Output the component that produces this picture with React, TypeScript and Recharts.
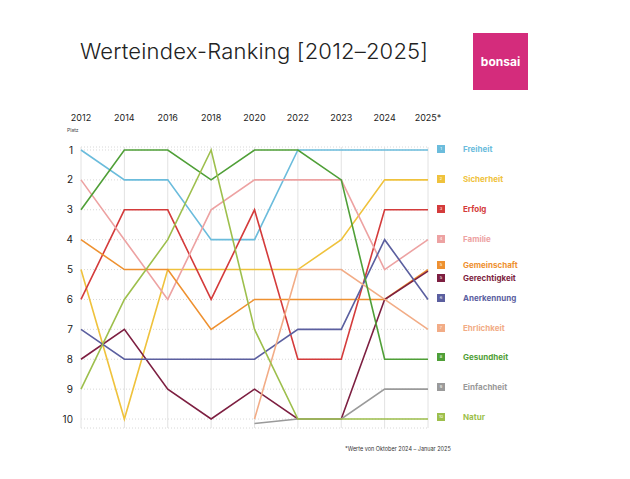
import { CartesianGrid, Line, LineChart, XAxis, YAxis } from "recharts";

const years = ["2012", "2014", "2016", "2018", "2020", "2022", "2023", "2024", "2025*"];
const ranks = [1, 2, 3, 4, 5, 6, 7, 8, 9, 10];

const freiheit = [1, 2, 2, 4, 4, 1, 1, 1, 1];
const sicherheit = [5, 10, 5, 5, 5, 5, 4, 2, 2];
const erfolg = [6, 3, 3, 6, 3, 8, 8, 3, 3];
const familie = [2, 4, 6, 3, 2, 2, 2, 5, 4];
const gemeinschaft = [4, 5, 5, 7, 6, 6, 6, 6, 5];
const gerechtigkeit = [8, 7, 9, 10, 9, 10, 10, 6, 5.05];
const anerkennung = [7, 8, 8, 8, 8, 7, 7, 4, 6];
const ehrlichkeit = [null, null, null, null, 10, 5, 5, 6, 7];
const gesundheit = [3, 1, 1, 2, 1, 1, 2, 8, 8];
const einfachheit = [null, null, null, null, 10.15, 10, 10, 9, 9];
const natur = [9, 6, 4, 1, 7, 10, 10, 10, 10];

const series = [
  { key: "freiheit", label: "Freiheit", rank: "1", color: "#6bbcdc", values: freiheit, top: 148 },
  { key: "sicherheit", label: "Sicherheit", rank: "2", color: "#efc23c", values: sicherheit, top: 178 },
  { key: "erfolg", label: "Erfolg", rank: "3", color: "#d43b3b", values: erfolg, top: 208 },
  { key: "familie", label: "Familie", rank: "4", color: "#eda2a2", values: familie, top: 238 },
  { key: "gemeinschaft", label: "Gemeinschaft", rank: "5", color: "#ee9130", values: gemeinschaft, top: 264 },
  { key: "gerechtigkeit", label: "Gerechtigkeit", rank: "5", color: "#7d1f41", values: gerechtigkeit, top: 277 },
  { key: "anerkennung", label: "Anerkennung", rank: "6", color: "#5b5f9f", values: anerkennung, top: 297 },
  { key: "ehrlichkeit", label: "Ehrlichkeit", rank: "7", color: "#f2ac86", values: ehrlichkeit, top: 327 },
  { key: "gesundheit", label: "Gesundheit", rank: "8", color: "#4f9f37", values: gesundheit, top: 356 },
  { key: "einfachheit", label: "Einfachheit", rank: "9", color: "#9a9a9a", values: einfachheit, top: 386 },
  { key: "natur", label: "Natur", rank: "10", color: "#9dbf4c", values: natur, top: 416 },
];

const data = years.map((year, i) => {
  const row: Record<string, number | string | null> = { year };
  series.forEach((s) => (row[s.key] = s.values[i]));
  return row;
});

const font = "Inter, 'DejaVu Sans', sans-serif";

export default function App() {
  return (
    <div style={{ position: "relative", width: 630, height: 479, margin: -8, background: "#fff", fontFamily: font }}>
      <div style={{ position: "absolute", left: 80, top: 38, fontSize: 22, fontWeight: 300, color: "#222", letterSpacing: 0.2 }}>
        Werteindex-Ranking [2012–2025]
      </div>
      <div
        style={{
          position: "absolute", left: 473, top: 33, width: 55, height: 57, background: "#d42c7c",
          color: "#fff", fontWeight: 700, fontSize: 12, display: "flex", alignItems: "center", justifyContent: "center",
        }}
      >
        bonsai
      </div>
      <div style={{ position: "absolute", left: 67, top: 127, fontSize: 5, color: "#444" }}>Platz</div>
      <LineChart width={630} height={479} data={data} margin={{ top: 118, right: 202, bottom: 51, left: 51 }}>
        <CartesianGrid stroke="#d8d8d8" strokeDasharray="1 2" vertical={false} />
        <CartesianGrid stroke="#e2e2e2" horizontal={false} />
        <XAxis
          dataKey="year"
          orientation="top"
          height={29}
          axisLine={false}
          tickLine={false}
          tickMargin={20}
          interval={0}
          tick={{ fill: "#222", fontSize: 9, fontFamily: font }}
        />
        <YAxis
          type="number"
          domain={[0.9, 10.3]}
          reversed
          ticks={ranks}
          width={30}
          axisLine={false}
          tickLine={false}
          tick={{ fill: "#222", fontSize: 10, fontFamily: font }}
        />
        {series.map((s) => (
          <Line
            key={s.key}
            type="linear"
            dataKey={s.key}
            stroke={s.color}
            strokeWidth={1.6}
            dot={false}
            isAnimationActive={false}
          />
        ))}
      </LineChart>
      {series.map((s) => (
        <div
          key={s.key}
          style={{ position: "absolute", left: 437, top: s.top - 4, display: "flex", alignItems: "center", gap: 4, height: 9 }}
        >
          <span style={{ width: 8, height: 8, background: s.color, color: "#fff", fontSize: 4, display: "flex", alignItems: "center", justifyContent: "center" }}>
            {s.rank}
          </span>
          <span style={{ width: 10 }} />
          <span style={{ color: s.color, fontWeight: 700, fontSize: 8 }}>{s.label}</span>
        </div>
      ))}
      <div style={{ position: "absolute", left: 345, top: 446, fontSize: 5.5, color: "#333" }}>
        *Werte von Oktober 2024 – Januar 2025
      </div>
    </div>
  );
}
